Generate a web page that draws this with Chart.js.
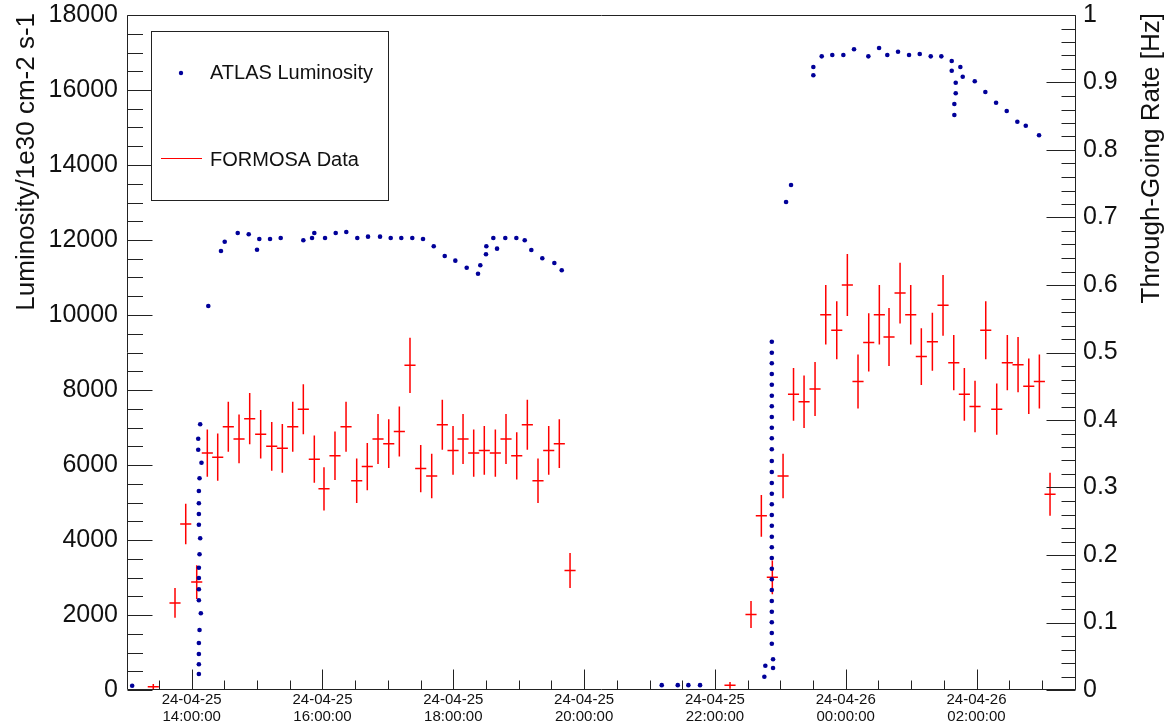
<!DOCTYPE html>
<html>
<head>
<meta charset="utf-8">
<title>ATLAS Luminosity / FORMOSA rate</title>
<script src="https://cdn.jsdelivr.net/npm/chart.js@4.4.1/dist/chart.umd.min.js"></script>
<style>
  html, body { margin: 0; padding: 0; background: #fff; }
  canvas { display: block; }
</style>
</head>
<body>
<canvas id="lumiChart" width="1172" height="725"></canvas>
<script>
// Time axis: hours counted from 2024-04-25 00:00 (24 = 26 April 00:00)
const timeMin = 13.011;
const timeMax = 27.521;
const xTickHours = [14, 16, 18, 20, 22, 24, 26];
const xTickLabels = [
    ['24-04-25', '14:00:00'],
    ['24-04-25', '16:00:00'],
    ['24-04-25', '18:00:00'],
    ['24-04-25', '20:00:00'],
    ['24-04-25', '22:00:00'],
    ['24-04-26', '00:00:00'],
    ['24-04-26', '02:00:00']
];

// ATLAS instantaneous luminosity [1e30 cm-2 s-1]
const lumHours = [
    13.09,
    14.11, 14.11, 14.11, 14.11, 14.12, 14.14, 14.11, 14.11, 14.11, 14.11, 14.12,
    14.13, 14.11, 14.11, 14.11, 14.11, 14.12, 14.15, 14.10, 14.10, 14.13,
    14.254, 14.448, 14.505, 14.704, 14.872, 14.999, 15.034, 15.198, 15.361, 15.707,
    15.840, 15.875, 16.039, 16.202, 16.364, 16.532, 16.696, 16.880, 17.043, 17.205,
    17.373, 17.537, 17.701, 17.869, 18.031, 18.205, 18.378, 18.413, 18.500, 18.505,
    18.612, 18.669, 18.795, 18.964, 19.092, 19.193, 19.361, 19.545, 19.658,
    21.187, 21.432, 21.594, 21.773,
    22.756, 22.771, 22.889, 22.889,
    22.87, 22.87, 22.87, 22.87, 22.87, 22.87, 22.87, 22.87, 22.87, 22.87,
    22.87, 22.87, 22.87, 22.87, 22.87, 22.87, 22.87, 22.87, 22.87, 22.87,
    22.87, 22.87, 22.87, 22.87, 22.87, 22.87, 22.87, 22.87, 22.87,
    23.088, 23.164,
    23.505, 23.505, 23.633, 23.795, 23.964, 24.127, 24.346, 24.510, 24.636, 24.800,
    24.968, 25.132, 25.300, 25.462, 25.621, 25.621, 25.661, 25.661, 25.682, 25.682,
    25.753, 25.789, 25.973, 26.135, 26.299, 26.462, 26.624, 26.753, 26.956
];
const lumValues = [
    115,
    427, 685, 960, 1253, 1600, 2045, 2392, 2685, 2987, 3261, 3619,
    4045, 4408, 4693, 4979, 5307, 5645, 6061, 6408, 6702, 7085,
    10240, 11707, 11955, 12187, 12152, 11742, 12027, 12027, 12053, 11992,
    12053, 12187, 12053, 12187, 12213, 12053, 12089, 12089, 12053, 12053,
    12053, 12027, 11832, 11573, 11449, 11262, 11102, 11325, 11619, 11832,
    12053, 11769, 12053, 12053, 11992, 11733, 11512, 11387, 11192,
    130, 130, 130, 130,
    355, 648, 587, 819,
    1235, 1520, 1805, 2088, 2373, 2667, 2952, 3235, 3520, 3805,
    4088, 4381, 4667, 4952, 5235, 5520, 5813, 6107, 6419, 6712,
    6995, 7280, 7565, 7848, 8141, 8427, 8712, 8995, 9288,
    13013, 13467,
    16392, 16613, 16898, 16933, 16933, 17085, 16898, 17120, 16933, 17022,
    16933, 16960, 16898, 16898, 16773, 16515, 15333, 15627, 15912, 16195,
    16613, 16355, 16232, 15947, 15661, 15440, 15155, 15048, 14792
];

// FORMOSA through-going muon rate per time bin [Hz]
const formosaHours = [
    13.413, 13.745, 13.909, 14.077, 14.239, 14.398, 14.560, 14.724, 14.887, 15.055,
    15.224, 15.386, 15.545, 15.707, 15.875, 16.023, 16.191, 16.360, 16.523, 16.685,
    16.849, 17.013, 17.175, 17.338, 17.502, 17.670, 17.832, 17.996, 18.149, 18.312,
    18.474, 18.643, 18.806, 18.970, 19.132, 19.295, 19.459, 19.621, 19.785,
    22.231, 22.552, 22.710, 22.878, 23.042, 23.202, 23.363, 23.531, 23.695, 23.863,
    24.025, 24.188, 24.352, 24.514, 24.662, 24.831, 24.994, 25.156, 25.325, 25.488,
    25.652, 25.814, 25.977, 26.141, 26.309, 26.471, 26.635, 26.799, 26.961, 27.124
];
const formosaRate = [
    0.005, 0.129, 0.246, 0.160, 0.351, 0.345, 0.390, 0.372, 0.402, 0.379,
    0.361, 0.358, 0.390, 0.416, 0.342, 0.298, 0.347, 0.390, 0.310, 0.331,
    0.372, 0.365, 0.383, 0.481, 0.328, 0.317, 0.393, 0.355, 0.372, 0.351,
    0.355, 0.351, 0.372, 0.347, 0.393, 0.310, 0.355, 0.365, 0.177,
    0.007, 0.112, 0.258, 0.167, 0.317, 0.438, 0.427, 0.446, 0.556, 0.533,
    0.600, 0.457, 0.515, 0.556, 0.523, 0.588, 0.556, 0.494, 0.516, 0.570,
    0.485, 0.438, 0.420, 0.533, 0.416, 0.485, 0.482, 0.450, 0.457, 0.290
];
const formosaErr = [
    0.004, 0.022, 0.030, 0.025, 0.035, 0.035, 0.037, 0.036, 0.038, 0.036,
    0.036, 0.036, 0.037, 0.037, 0.035, 0.032, 0.036, 0.037, 0.033, 0.035,
    0.037, 0.036, 0.037, 0.041, 0.035, 0.033, 0.037, 0.036, 0.037, 0.035,
    0.036, 0.035, 0.037, 0.035, 0.037, 0.033, 0.036, 0.036, 0.026,
    0.005, 0.020, 0.031, 0.025, 0.033, 0.039, 0.039, 0.040, 0.044, 0.043,
    0.046, 0.040, 0.043, 0.044, 0.043, 0.045, 0.044, 0.042, 0.043, 0.045,
    0.041, 0.039, 0.038, 0.043, 0.038, 0.041, 0.041, 0.041, 0.040, 0.032
];
const formosaBinHalf = 0.085; // half bin width in hours

const lumColor = '#000099';
const rateColor = '#ff0000';
const axisColor = '#222';
const textColor = '#111';

// Error bars (vertical stat. error, horizontal bin width) for the rate series
const errorBarPlugin = {
    id: 'errorBars',
    beforeDatasetsDraw: (chart) => {
        const ctx = chart.ctx;
        const xs = chart.scales.x;
        const ys = chart.scales.y1;
        ctx.save();
        ctx.strokeStyle = rateColor;
        ctx.lineWidth = 1.5;
        formosaHours.forEach((h, i) => {
            const x = xs.getPixelForValue(h);
            const x0 = xs.getPixelForValue(h - formosaBinHalf);
            const x1 = xs.getPixelForValue(h + formosaBinHalf);
            const y = ys.getPixelForValue(formosaRate[i]);
            const yLo = ys.getPixelForValue(formosaRate[i] - formosaErr[i]);
            const yHi = ys.getPixelForValue(formosaRate[i] + formosaErr[i]);
            ctx.beginPath();
            ctx.moveTo(x, yLo);
            ctx.lineTo(x, yHi);
            ctx.moveTo(x0, y);
            ctx.lineTo(x1, y);
            ctx.stroke();
        });
        ctx.restore();
    }
};

// Frame, inward ticks, axis titles and legend box
const framePlugin = {
    id: 'frame',
    afterDraw: (chart) => {
        const ctx = chart.ctx;
        const area = chart.chartArea;
        const xs = chart.scales.x;
        const yl = chart.scales.y;
        const yr = chart.scales.y1;
        const L = Math.round(area.left) + 0.5;
        const R = Math.round(area.right) - 0.5;
        const T = Math.round(area.top) + 0.5;
        const B = Math.round(area.bottom) - 0.5;

        ctx.save();
        ctx.strokeStyle = axisColor;
        ctx.lineWidth = 1;
        ctx.beginPath();
        ctx.rect(L, T, R - L, B - T);

        // left axis: major 2000, minor 500
        for (let v = 0; v <= 18000; v += 500) {
            const y = Math.round(yl.getPixelForValue(v)) + 0.5;
            const len = v % 2000 === 0 ? 25 : 15.5;
            ctx.moveTo(L, y);
            ctx.lineTo(L + len, y);
        }
        // right axis: major 0.1, minor 0.02
        for (let k = 0; k <= 50; k++) {
            const y = Math.round(yr.getPixelForValue(k * 0.02)) + 0.5;
            const len = k % 5 === 0 ? 29 : 14;
            ctx.moveTo(R, y);
            ctx.lineTo(R - len, y);
        }
        // time axis: major 2 h, minor 30 min
        for (let h = Math.ceil(timeMin * 2) / 2; h <= timeMax; h += 0.5) {
            const x = Math.round(xs.getPixelForValue(h)) + 0.5;
            const len = h % 2 === 0 ? 20 : 9;
            ctx.moveTo(x, B);
            ctx.lineTo(x, B - len);
        }
        ctx.stroke();

        // axis titles, both reading bottom to top, flush with the top
        ctx.fillStyle = textColor;
        ctx.font = '26px "Liberation Sans", Arial, sans-serif';
        ctx.textAlign = 'right';
        ctx.textBaseline = 'alphabetic';
        [[34, 'Luminosity/1e30 cm-2 s-1'], [1159, 'Through-Going Rate [Hz]']].forEach(([x, text]) => {
            ctx.save();
            ctx.translate(x, 13);
            ctx.rotate(-Math.PI / 2);
            ctx.fillText(text, 0, 0);
            ctx.restore();
        });

        // legend
        const ds = chart.data.datasets;
        ctx.fillStyle = '#fff';
        ctx.fillRect(152, 32, 236, 168);
        ctx.strokeStyle = axisColor;
        ctx.strokeRect(151.5, 31.5, 237, 169);

        ctx.fillStyle = lumColor;
        ctx.beginPath();
        ctx.arc(181, 73, 2.2, 0, Math.PI * 2);
        ctx.fill();

        ctx.strokeStyle = rateColor;
        ctx.lineWidth = 1.2;
        ctx.beginPath();
        ctx.moveTo(161, 158.5);
        ctx.lineTo(202, 158.5);
        ctx.stroke();

        ctx.fillStyle = textColor;
        ctx.font = '20px "Liberation Sans", Arial, sans-serif';
        ctx.textAlign = 'left';
        ctx.textBaseline = 'middle';
        ctx.fillText(ds[0].label, 210, 73);
        ctx.fillText(ds[1].label, 210, 160);
        ctx.restore();
    }
};

// Fixed scale sizes; label overhang must not shrink the plot frame
function fixSize(prop, size) {
    return (scale) => {
        scale[prop] = size;
        scale.paddingTop = 0;
        scale.paddingBottom = 0;
        scale.paddingLeft = 0;
        scale.paddingRight = 0;
    };
}

const tickFont = { family: '"Liberation Sans", Arial, sans-serif', size: 25, lineHeight: 1 };

new Chart(document.getElementById('lumiChart'), {
    type: 'scatter',
    data: {
        datasets: [
            {
                label: 'ATLAS Luminosity',
                data: lumHours.map((h, i) => ({ x: h, y: lumValues[i] })),
                yAxisID: 'y',
                pointRadius: 2.3,
                pointBorderWidth: 0,
                pointBackgroundColor: lumColor,
                showLine: false
            },
            {
                label: 'FORMOSA Data',
                data: formosaHours.map((h, i) => ({ x: h, y: formosaRate[i] })),
                yAxisID: 'y1',
                pointRadius: 0,
                borderColor: rateColor,
                showLine: false
            }
        ]
    },
    options: {
        responsive: false,
        animation: false,
        layout: { padding: { top: 15, left: 0, right: 0, bottom: 0 } },
        plugins: {
            legend: { display: false },
            tooltip: { enabled: false }
        },
        scales: {
            x: {
                type: 'linear',
                position: 'bottom',
                min: timeMin,
                max: timeMax,
                grid: { display: false, drawTicks: false },
                border: { display: false },
                afterBuildTicks: (scale) => {
                    scale.ticks = xTickHours.map(v => ({ value: v }));
                },
                afterFit: fixSize('height', 35),
                ticks: {
                    autoSkip: false,
                    maxRotation: 0,
                    padding: 1,
                    color: textColor,
                    font: { family: '"Liberation Sans", Arial, sans-serif', size: 15, lineHeight: 1.15 },
                    callback: function(value) {
                        const i = xTickHours.indexOf(value);
                        return i >= 0 ? xTickLabels[i] : '';
                    }
                }
            },
            y: {
                type: 'linear',
                position: 'left',
                min: 0,
                max: 18000,
                grid: { display: false, drawTicks: false },
                border: { display: false },
                afterFit: fixSize('width', 127),
                ticks: {
                    stepSize: 2000,
                    padding: 9,
                    color: textColor,
                    font: tickFont,
                    callback: (value) => String(value)
                }
            },
            y1: {
                type: 'linear',
                position: 'right',
                min: 0,
                max: 1,
                grid: { display: false, drawTicks: false },
                border: { display: false },
                afterFit: fixSize('width', 96),
                ticks: {
                    stepSize: 0.1,
                    padding: 7,
                    color: textColor,
                    font: tickFont,
                    callback: (value) => String(Math.round(value * 10) / 10)
                }
            }
        }
    },
    plugins: [errorBarPlugin, framePlugin]
});
</script>
</body>
</html>
